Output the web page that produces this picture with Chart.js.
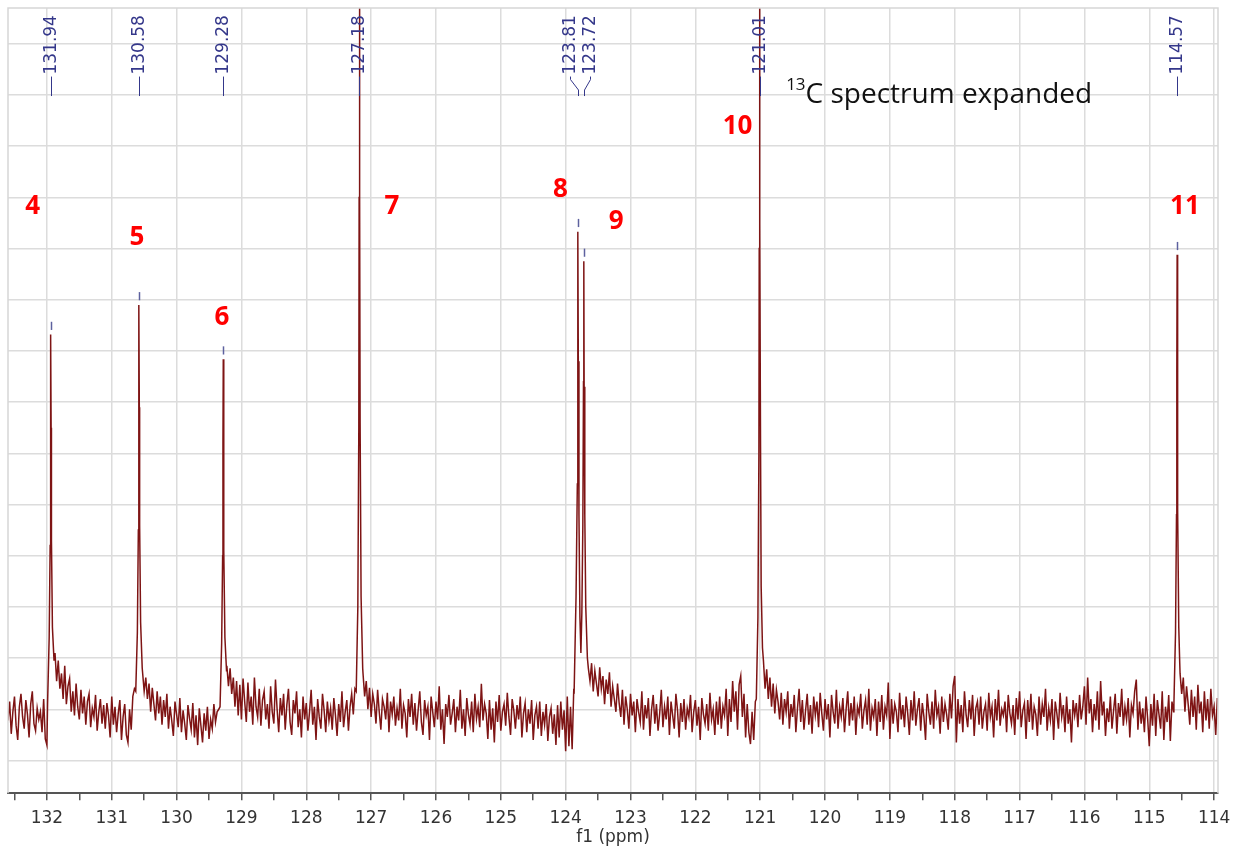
<!DOCTYPE html>
<html>
<head>
<meta charset="utf-8">
<title>13C spectrum expanded</title>
<script src="https://cdn.jsdelivr.net/npm/chart.js@4/dist/chart.umd.min.js"></script>
<style>
  html, body { margin: 0; padding: 0; background: #fff; }
  #spec { display: block; }
</style>
</head>
<body>
<canvas id="spec" width="1241" height="848"></canvas>
<script>
// x axis: ppm, drawn reversed (high field on the right)
var ppmMin = 113.94;
var ppmMax = 132.60;

// baseline sampling: first point at 132.600 ppm, one point every 0.025 ppm
var ppmStart = 132.60;
var ppmStep = 0.025;

// baseline intensity (grid units, baseline ~1), 20 points per row
var baseline = [
  0.78,1.15,0.52,0.95,1.25,0.68,0.40,1.05,1.30,0.85,0.62,1.18,0.90,0.45,1.10,1.35,0.72,0.58,1.02,0.80,
  0.95,0.55,1.20,0.42,0.30,2.00,2.00,2.00,2.00,2.10,1.55,1.95,1.40,1.70,1.20,1.85,1.10,1.45,1.60,0.95,
  1.35,0.88,1.50,1.05,0.80,1.38,0.92,1.25,0.70,1.15,1.30,0.65,1.02,0.85,1.28,0.58,0.95,1.20,0.72,1.08,
  0.62,1.12,0.88,0.45,1.25,0.70,1.05,0.55,0.92,1.18,0.40,0.85,1.10,0.50,0.35,1.00,0.60,1.25,1.40,2.00,
  2.00,2.00,2.00,1.80,1.35,1.62,1.20,1.50,0.95,1.42,1.10,0.78,1.35,0.92,1.25,0.70,1.18,0.85,1.30,0.62,
  1.05,0.78,0.48,1.15,0.90,0.65,1.22,0.55,0.98,0.72,0.40,1.08,0.82,0.60,1.12,0.45,0.88,0.30,1.02,0.68,
  0.35,0.92,0.58,1.05,0.42,0.80,0.62,1.10,0.75,0.95,1.00,2.00,2.00,2.00,2.00,1.85,1.45,1.80,1.30,1.62,
  1.05,1.55,0.88,1.48,0.80,1.60,1.15,0.75,1.52,0.95,1.25,0.70,1.62,1.05,0.85,1.40,0.68,1.18,1.35,0.80,
  1.10,0.62,1.45,0.95,0.72,1.58,1.00,0.55,1.22,0.88,1.30,0.60,1.08,1.40,0.75,0.50,1.18,0.92,1.35,0.65,
  1.00,0.45,1.25,0.80,1.12,0.58,0.95,1.38,0.70,1.05,0.40,1.20,0.85,0.62,1.30,0.98,0.55,1.15,0.78,1.02,
  0.60,1.22,0.88,0.48,1.10,0.75,1.35,0.65,0.95,1.18,0.58,1.05,1.30,0.90,1.40,2.00,2.00,2.00,2.00,1.70,
  1.25,1.55,1.00,1.42,0.85,1.30,1.10,0.72,1.38,0.95,0.60,1.20,1.05,0.80,1.32,0.55,1.15,0.90,1.25,0.68,
  1.02,0.78,1.40,0.62,1.08,0.92,0.45,1.20,0.85,1.30,0.70,1.12,0.58,0.98,1.35,0.75,0.50,1.18,0.88,1.05,
  0.40,1.25,0.95,0.65,1.15,0.80,1.45,0.60,1.00,0.32,1.10,0.85,1.28,0.70,0.92,1.20,0.55,1.05,0.78,1.38,
  0.62,1.00,0.48,1.22,0.90,0.70,1.15,0.55,1.30,0.82,1.05,0.65,1.50,0.78,1.10,0.92,0.42,1.18,0.60,1.02,
  0.35,1.15,0.75,1.28,0.58,0.95,1.10,0.68,1.32,0.85,0.50,1.20,0.98,0.62,1.08,0.80,1.25,0.45,0.92,1.12,
  0.55,1.00,0.72,1.18,0.40,0.88,1.05,0.62,1.15,0.48,0.95,0.70,1.10,0.38,0.85,1.02,0.52,0.90,0.30,1.08,
  0.45,1.15,0.60,0.98,0.18,1.25,0.28,1.05,0.22,1.40,2.00,2.00,2.00,2.00,2.00,2.00,2.00,2.00,1.80,1.55,
  1.90,1.35,1.75,1.50,1.25,1.82,1.40,1.65,1.10,1.58,1.30,1.72,1.05,1.45,1.20,0.95,1.50,1.12,0.85,1.38,
  0.70,1.25,1.00,0.62,1.30,0.88,1.15,0.55,1.20,0.95,0.75,1.35,0.60,1.08,0.82,1.22,0.48,1.00,1.28,0.72,
  1.10,0.58,0.92,1.38,0.65,1.05,0.80,1.25,0.50,1.15,0.88,0.62,1.30,0.98,0.45,1.12,0.75,1.20,0.60,1.02,
  0.85,1.28,0.55,0.95,1.18,0.68,1.05,0.40,1.22,0.90,0.72,1.10,0.58,1.32,0.80,1.00,0.50,1.15,0.70,1.25,
  0.62,1.05,0.88,1.40,0.48,1.20,0.75,1.55,0.95,1.35,0.60,1.48,1.65,0.85,1.30,0.45,1.10,0.55,0.32,0.95,
  0.40,1.15,2.00,2.00,2.00,2.00,1.95,1.40,1.78,1.20,1.62,1.05,1.50,0.92,1.38,1.15,0.80,1.32,0.70,1.20,
  0.95,1.35,0.62,1.10,0.85,1.28,0.55,1.02,1.40,0.75,1.18,0.60,0.98,1.30,0.70,1.08,0.52,1.25,0.88,1.15,
  0.65,1.32,0.92,0.58,1.20,0.80,1.10,0.45,1.28,0.95,0.72,1.38,0.62,1.05,0.85,1.22,0.55,1.00,1.35,0.68,
  1.12,0.78,1.25,0.50,1.05,0.90,1.30,0.62,0.98,1.18,0.70,1.40,0.58,1.02,0.85,1.20,0.48,1.15,0.75,1.28,
  0.60,1.05,0.88,1.52,0.42,1.20,0.72,1.10,0.95,0.55,1.32,0.80,1.08,0.65,1.25,0.92,0.50,1.18,0.78,1.35,
  0.68,1.00,1.22,0.58,1.12,0.85,0.40,1.30,0.95,0.70,1.15,0.62,1.38,0.88,1.05,0.52,1.25,0.75,1.10,0.90,
  0.60,1.30,0.82,1.45,1.65,0.35,1.20,0.72,1.08,0.55,1.35,0.90,0.65,1.18,0.80,1.28,0.48,1.02,1.15,0.70,
  1.25,0.62,0.95,1.10,0.58,1.32,0.85,1.05,0.45,1.20,0.78,1.38,0.68,1.00,0.88,1.15,0.55,1.28,0.92,0.72,
  1.08,0.50,1.22,0.80,1.35,0.65,0.98,1.12,0.42,1.18,0.75,1.30,0.60,1.05,0.90,0.48,1.25,0.70,1.10,0.85,
  1.40,0.58,1.02,0.78,1.20,0.40,1.15,0.92,0.62,1.32,0.85,1.08,0.55,1.25,0.72,1.00,0.35,1.18,0.88,1.12,
  0.65,1.28,0.80,1.05,1.45,0.70,1.62,0.92,1.20,0.55,1.10,0.78,1.35,0.60,1.55,0.88,1.15,0.48,1.02,0.75,
  1.25,0.62,0.98,1.30,0.52,1.12,0.85,1.40,0.68,1.05,0.80,1.22,0.45,1.08,0.92,1.35,1.58,0.60,1.15,0.72,
  1.02,0.55,1.25,0.82,0.28,1.10,0.68,1.30,0.48,1.18,0.90,0.62,1.35,0.40,1.05,0.75,1.28,0.38,1.15,0.95,
  2.00,2.00,2.00,1.70,1.30,1.62,0.95,1.45,1.10,0.70,1.38,0.85,1.25,0.60,1.48,0.92,1.15,0.55,1.35,0.78,
  1.20,0.62,1.40,0.88,1.05,0.50,1.22
];

// peak line shapes, [ppm, intensity]; these replace the baseline inside their span
var peak131 = [[131.99,1.10],[131.965,2.4],[131.95,4.2],[131.945,6.6],[131.94,8.32],[131.935,6.5],[131.93,4.3],[131.915,2.6],[131.89,1.95]];
var peak130 = [[130.63,1.35],[130.605,2.5],[130.59,4.5],[130.585,7.0],[130.58,8.9],[130.575,6.9],[130.57,4.6],[130.555,2.7],[130.53,1.8]];
var peak129 = [[129.33,1.05],[129.305,2.3],[129.29,4.0],[129.285,6.2],[129.28,7.84],[129.275,6.1],[129.27,4.1],[129.255,2.4],[129.23,1.75]];
var peak127 = [[127.23,1.35],[127.205,3.0],[127.19,6.5],[127.185,11.0],[127.18,16.0],[127.175,11.0],[127.17,6.6],[127.155,3.2],[127.13,1.8]];
var peak123 = [[123.87,1.3],[123.84,3.2],[123.82,5.4],[123.815,8.0],[123.81,10.33],[123.805,7.8],[123.795,4.8],[123.78,2.8],[123.765,2.1],
               [123.75,2.9],[123.735,4.6],[123.725,7.4],[123.72,9.75],[123.715,7.3],[123.705,4.8],[123.69,3.0],[123.665,2.0]];
var peak121 = [[121.06,1.2],[121.035,2.8],[121.02,6.0],[121.015,10.0],[121.01,16.0],[121.005,10.5],[120.995,6.2],[120.985,3.4],[120.965,2.2]];
var peak114 = [[114.62,1.1],[114.595,2.5],[114.58,4.8],[114.575,7.6],[114.57,9.88],[114.565,7.5],[114.56,4.9],[114.545,2.6],[114.53,1.9]];

// picked peaks: shift labels, where the label text sits, peak top (null = off scale)
var shiftLabels = ['131.94','130.58','129.28','127.18','123.81','123.72','121.01','114.57'];
var shiftPpm    = [131.94, 130.58, 129.28, 127.18, 123.81, 123.72, 121.01, 114.57];
var labelPpm    = [131.94, 130.58, 129.28, 127.18, 123.94, 123.63, 121.01, 114.57];
var peakTop     = [8.32, 8.9, 7.84, null, 10.33, 9.75, null, 9.88];

// red carbon numbers: text, ppm, height
var carbonText = ['4','5','6','7','8','9','10','11'];
var carbonPpm  = [132.22, 130.61, 129.30, 126.68, 124.08, 123.22, 121.35, 114.45];
var carbonY    = [10.82, 10.21, 8.65, 10.82, 11.15, 10.53, 12.38, 10.82];

var yMin = -0.64;
var yMax = 14.7;

function buildSpectrum() {
  var groups = [peak131, peak130, peak129, peak127, peak123, peak121, peak114];
  var pts = [];
  for (var k = 0; k < baseline.length; k++) {
    var x = +(ppmStart - k * ppmStep).toFixed(3);
    var inside = false;
    for (var g = 0; g < groups.length; g++) {
      var hi = groups[g][0][0], lo = groups[g][groups[g].length - 1][0];
      if (x < hi && x > lo) { inside = true; break; }
    }
    if (!inside) pts.push({x: x, y: baseline[k]});
  }
  groups.forEach(function (gr) {
    gr.forEach(function (p) { pts.push({x: p[0], y: p[1]}); });
  });
  pts.sort(function (a, b) { return b.x - a.x; });
  return pts;
}

var annotate = {
  id: 'annotate',
  afterDatasetsDraw: function (chart) {
    var ctx = chart.ctx;
    var xs = chart.scales.x, ys = chart.scales.y;
    var area = chart.chartArea;

    ctx.save();
    // light frame around the plot
    ctx.strokeStyle = '#d6d6d6';
    ctx.lineWidth = 1.5;
    ctx.beginPath();
    ctx.moveTo(area.left, area.bottom);
    ctx.lineTo(area.left, area.top);
    ctx.lineTo(area.right, area.top);
    ctx.lineTo(area.right, area.bottom);
    ctx.stroke();

    // peak picking labels
    ctx.font = '17px "DejaVu Sans"';
    ctx.fillStyle = '#34378a';
    ctx.strokeStyle = '#34378a';
    ctx.lineWidth = 1;
    var yText = ys.getPixelForValue(13.38);
    var yEnd = ys.getPixelForValue(12.98);
    for (var i = 0; i < shiftLabels.length; i++) {
      var lx = Math.round(xs.getPixelForValue(labelPpm[i])) + 0.5;
      var px = Math.round(xs.getPixelForValue(shiftPpm[i])) + 0.5;
      ctx.beginPath();
      if (lx === px) {
        ctx.moveTo(lx, yText + 1);
        ctx.lineTo(lx, yEnd);
      } else {
        ctx.moveTo(lx, yText + 1);
        ctx.lineTo(lx, yText + 4);
        ctx.lineTo(px, yEnd - 6);
        ctx.lineTo(px, yEnd);
      }
      ctx.stroke();
      ctx.save();
      ctx.translate(lx + 0.5, yText - 1);
      ctx.rotate(-Math.PI / 2);
      ctx.textAlign = 'left';
      ctx.textBaseline = 'middle';
      ctx.fillText(shiftLabels[i], 0, 0);
      ctx.restore();

      if (peakTop[i] !== null) {
        ctx.save();
        ctx.strokeStyle = '#5d619f';
        ctx.lineWidth = 1.5;
        ctx.beginPath();
        ctx.moveTo(px, ys.getPixelForValue(peakTop[i] + 0.09));
        ctx.lineTo(px, ys.getPixelForValue(peakTop[i] + 0.25));
        ctx.stroke();
        ctx.restore();
      }
    }

    // carbon numbers
    ctx.font = 'bold 26px "Open Sans"';
    ctx.fillStyle = '#ff0000';
    ctx.textAlign = 'center';
    ctx.textBaseline = 'middle';
    for (var j = 0; j < carbonText.length; j++) {
      ctx.fillText(carbonText[j], xs.getPixelForValue(carbonPpm[j]), ys.getPixelForValue(carbonY[j]));
    }

    // caption with superscript
    var cx = xs.getPixelForValue(120.60);
    ctx.textAlign = 'left';
    ctx.textBaseline = 'alphabetic';
    ctx.fillStyle = '#111';
    ctx.font = '17px "Open Sans"';
    ctx.fillText('13', cx, ys.getPixelForValue(13.1));
    var w = ctx.measureText('13').width;
    ctx.font = '28px "Open Sans"';
    ctx.fillText('C spectrum expanded', cx + w, ys.getPixelForValue(12.85));
    ctx.restore();
  }
};

function isWhole(v) {
  return Math.abs(v - Math.round(v)) < 1e-6;
}

var ctx = document.getElementById('spec').getContext('2d');
new Chart(ctx, {
  type: 'line',
  data: {
    datasets: [{
      data: buildSpectrum(),
      borderColor: '#7e1414',
      borderWidth: 1.5,
      pointRadius: 0,
      tension: 0,
      fill: false
    }]
  },
  options: {
    responsive: false,
    animation: false,
    events: [],
    layout: { padding: { left: 8, top: 8, right: 23, bottom: 0 } },
    plugins: { legend: { display: false }, tooltip: { enabled: false } },
    scales: {
      x: {
        type: 'linear',
        reverse: true,
        min: ppmMin,
        max: ppmMax,
        border: { display: true, color: '#555', width: 2 },
        grid: {
          color: function (c) { return isWhole(c.tick.value) ? '#dcdcdc' : 'rgba(0,0,0,0)'; },
          lineWidth: 1.5,
          tickColor: '#555',
          tickLength: 7
        },
        ticks: {
          stepSize: 0.5,
          includeBounds: false,
          autoSkip: false,
          maxRotation: 0,
          padding: 8,
          color: '#333',
          font: { family: 'DejaVu Sans', size: 17 },
          callback: function (v) { return isWhole(v) ? String(Math.round(v)) : ''; }
        },
        title: {
          display: true,
          text: 'f1 (ppm)',
          color: '#333',
          font: { family: 'DejaVu Sans', size: 17 },
          padding: { top: -9, bottom: 0 }
        }
      },
      y: {
        min: yMin,
        max: yMax,
        border: { display: false },
        grid: { color: '#dcdcdc', lineWidth: 1.5, drawTicks: false },
        ticks: { display: false, stepSize: 1, includeBounds: false }
      }
    }
  },
  plugins: [annotate]
});
</script>
</body>
</html>
